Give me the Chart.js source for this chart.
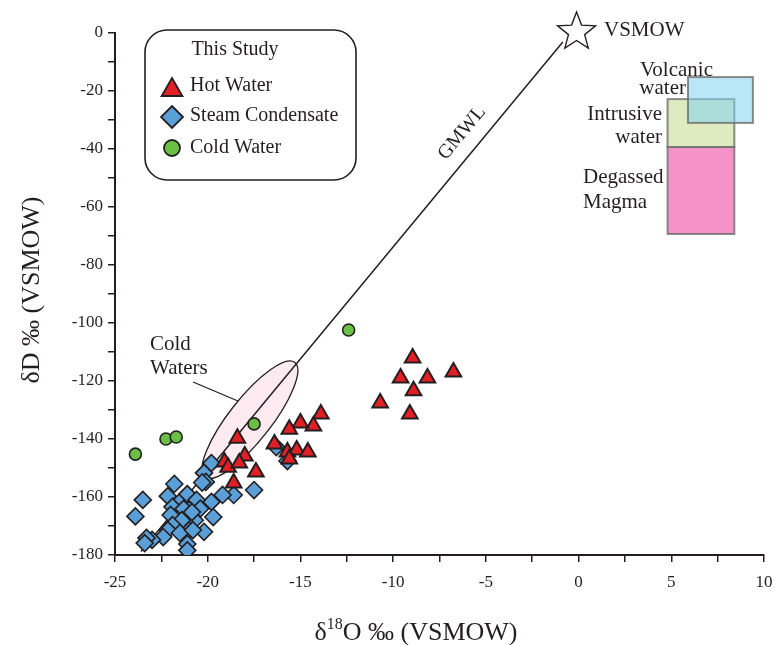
<!DOCTYPE html>
<html>
<head>
<meta charset="utf-8">
<script src="https://cdn.jsdelivr.net/npm/chart.js@4"></script>
<style>
  html, body { margin: 0; padding: 0; background: #fff; overflow: hidden; }
  #wrap { width: 775px; height: 645px; }
</style>
</head>
<body>
<div id="wrap"><canvas id="myChart"></canvas></div>
<script>
/*////////////////////////////////// DATA //////////////////////////////////*/
// Hot water (triangles)
const hotX = [-8.95, -9.6, -8.15, -6.75, -8.9, -10.7, -9.1, -13.9, -14.3, -15.0, -15.6, -16.4,
              -15.7, -15.2, -14.6, -15.6, -18.0, -17.4, -18.4, -19.1, -18.9, -18.3, -18.6];
const hotY = [-112.1, -119, -119, -116.9, -123.4, -127.6, -131.4, -131.4, -135.5, -134.5, -136.6, -141.7,
              -144.5, -143.8, -144.5, -146.9, -145.9, -151.4, -139.7, -147.9, -149.7, -148.3, -155.2];
// Steam condensate (diamonds)
const steamX = [-16.3, -15.7, -19.8, -20.2, -20.1, -17.5, -18.6, -19.2, -21.1, -19.8, -20.6, -20.4,
                -19.7, -21.0, -20.7, -20.2, -21.0, -21.8, -23.5, -23.9, -22.15, -20.3, -21.55, -21.9,
                -21.3, -22.0, -20.85, -21.4, -21.9, -22.15, -21.5, -20.8, -22.4, -23.0, -23.3, -23.4,
                -21.1, -21.1];
const steamY = [-142.8, -147.6, -148.3, -151.7, -154.8, -157.6, -159.3, -159.3, -159, -161.7, -161, -164,
                -166.9, -164.5, -168, -172, -171.4, -155.5, -161, -166.7, -159.7, -155, -162, -163.4,
                -164.1, -166.2, -165.2, -168, -169.7, -171.4, -172.4, -171.4, -173.8, -174.8, -174.1, -175.9,
                -176.2, -178.4];
// Cold water (circles)
const coldX = [-23.9, -22.25, -21.7, -17.5, -12.4];
const coldY = [-145.2, -140, -139.3, -134.8, -102.4];
// Global meteoric water line end points
const gmwlX = [-23.6, -0.85];
const gmwlY = [-178.8, -3.1];
// VSMOW reference
const vsmowX = [0];
const vsmowY = [0];
// Reference fields [xmin, xmax, ymax, ymin]
const volcanicBox = [5.9, 9.4, -15.2, -31];
const intrusiveBox = [4.8, 8.4, -22.8, -39.3];
const degassedBox = [4.8, 8.4, -39.3, -69.3];
// Cold waters field: ellipse tips
const coldFieldX = [-20.15, -15.3];
const coldFieldY = [-153.1, -113.6];

const xMin = -25, xMax = 10, xStep = 2.5, xLabelStep = 5;
const yMin = -180, yMax = 0, yStep = 10, yLabelStep = 20;

/*////////////////////////////////// STYLE //////////////////////////////////*/
const FONT = '"Liberation Serif", "Times New Roman", serif';
const INK = '#231f20';
const RED = '#e31f26';
const BLUE = '#5a9fd8';
const GREEN = '#6cbf45';

const toPts = (xs, ys) => xs.map((x, i) => ({ x: x, y: ys[i] }));

function trianglePath(ctx, x, y, r) {
    ctx.beginPath();
    ctx.moveTo(x, y - r);
    ctx.lineTo(x + r * 0.866, y + r * 0.5);
    ctx.lineTo(x - r * 0.866, y + r * 0.5);
    ctx.closePath();
}
function diamondPath(ctx, x, y, r) {
    ctx.beginPath();
    ctx.moveTo(x, y - r);
    ctx.lineTo(x + r, y);
    ctx.lineTo(x, y + r);
    ctx.lineTo(x - r, y);
    ctx.closePath();
}
function starPath(ctx, x, y, R, r) {
    ctx.beginPath();
    for (let i = 0; i < 10; i++) {
        const a = -Math.PI / 2 + i * Math.PI / 5;
        const rad = i % 2 === 0 ? R : r;
        const px = x + rad * Math.cos(a), py = y + rad * Math.sin(a);
        if (i === 0) ctx.moveTo(px, py); else ctx.lineTo(px, py);
    }
    ctx.closePath();
}
function roundRect(ctx, x, y, w, h, r) {
    ctx.beginPath();
    ctx.moveTo(x + r, y);
    ctx.arcTo(x + w, y, x + w, y + h, r);
    ctx.arcTo(x + w, y + h, x, y + h, r);
    ctx.arcTo(x, y + h, x, y, r);
    ctx.arcTo(x, y, x + w, y, r);
    ctx.closePath();
}

/*////////////////////////////////// DECORATIONS //////////////////////////////////*/
const decorations = {
    id: 'decorations',
    beforeDatasetsDraw(chart) {
        const ctx = chart.ctx;
        const xs = chart.scales.x, ys = chart.scales.y;
        ctx.save();
        // reference fields
        const fields = [
            [degassedBox, 'rgba(243,128,192,0.85)'],
            [intrusiveBox, 'rgba(200,222,150,0.6)'],
            [volcanicBox, 'rgba(130,212,240,0.55)']
        ];
        fields.forEach(([b, fill]) => {
            const x0 = xs.getPixelForValue(b[0]), x1 = xs.getPixelForValue(b[1]);
            const y0 = ys.getPixelForValue(b[2]), y1 = ys.getPixelForValue(b[3]);
            ctx.fillStyle = fill;
            ctx.fillRect(x0, y0, x1 - x0, y1 - y0);
            ctx.strokeStyle = 'rgba(110,110,110,0.8)';
            ctx.lineWidth = 2;
            ctx.strokeRect(x0, y0, x1 - x0, y1 - y0);
        });
        // cold waters ellipse
        const ex0 = xs.getPixelForValue(coldFieldX[0]), ey0 = ys.getPixelForValue(coldFieldY[0]);
        const ex1 = xs.getPixelForValue(coldFieldX[1]), ey1 = ys.getPixelForValue(coldFieldY[1]);
        const cx = (ex0 + ex1) / 2, cy = (ey0 + ey1) / 2;
        const semi = Math.hypot(ex1 - ex0, ey1 - ey0) / 2;
        const ang = Math.atan2(ey1 - ey0, ex1 - ex0);
        ctx.beginPath();
        ctx.ellipse(cx, cy, semi, 21, ang, 0, Math.PI * 2);
        ctx.fillStyle = '#fdebf1';
        ctx.fill();
        ctx.strokeStyle = INK;
        ctx.lineWidth = 1.3;
        ctx.stroke();
        ctx.restore();
    },
    afterDraw(chart) {
        const ctx = chart.ctx;
        const xs = chart.scales.x, ys = chart.scales.y;
        ctx.save();
        ctx.fillStyle = INK;
        ctx.textBaseline = 'middle';

        // VSMOW star
        const sx = xs.getPixelForValue(vsmowX[0]) - 2, sy = ys.getPixelForValue(vsmowY[0]) - 1;
        starPath(ctx, sx, sy, 20, 8.5);
        ctx.fillStyle = '#fff';
        ctx.fill();
        ctx.strokeStyle = INK;
        ctx.lineWidth = 1.4;
        ctx.stroke();
        ctx.fillStyle = INK;
        ctx.font = '21px ' + FONT;
        ctx.textAlign = 'left';
        ctx.fillText('VSMOW', 604, 30);

        // field labels
        ctx.textAlign = 'right';
        ctx.fillText('Volcanic', 713, 70);
        ctx.fillText('water', 686, 88);
        ctx.fillText('Intrusive', 662, 114);
        ctx.fillText('water', 662, 137);
        ctx.textAlign = 'left';
        ctx.fillText('Degassed', 583, 177);
        ctx.fillText('Magma', 583, 202);

        // GMWL label
        ctx.save();
        ctx.translate(462, 133);
        ctx.rotate(-50.5 * Math.PI / 180);
        ctx.textAlign = 'center';
        ctx.font = '20px ' + FONT;
        ctx.fillText('GMWL', 0, 0);
        ctx.restore();

        // Cold waters label + leader
        ctx.textAlign = 'left';
        ctx.fillText('Cold', 150, 344);
        ctx.fillText('Waters', 150, 368);
        ctx.beginPath();
        ctx.moveTo(193, 382);
        ctx.lineTo(238, 401);
        ctx.strokeStyle = INK;
        ctx.lineWidth = 1.3;
        ctx.stroke();

        // legend
        roundRect(ctx, 145, 30, 211, 150, 22);
        ctx.fillStyle = '#fff';
        ctx.fill();
        ctx.lineWidth = 1.6;
        ctx.strokeStyle = INK;
        ctx.stroke();
        ctx.fillStyle = INK;
        ctx.font = '20px ' + FONT;
        ctx.textAlign = 'center';
        ctx.fillText('This Study', 235, 50);
        ctx.textAlign = 'left';
        ctx.lineWidth = 1.8;
        trianglePath(ctx, 172, 90, 12);
        ctx.fillStyle = RED; ctx.fill(); ctx.stroke();
        diamondPath(ctx, 172, 117, 11);
        ctx.fillStyle = BLUE; ctx.fill(); ctx.stroke();
        ctx.beginPath(); ctx.arc(172, 148, 8, 0, Math.PI * 2);
        ctx.fillStyle = GREEN; ctx.fill(); ctx.stroke();
        ctx.fillStyle = INK;
        ctx.fillText('Hot Water', 190, 86);
        ctx.fillText('Steam Condensate', 190, 116);
        ctx.fillText('Cold Water', 190, 148);

        // axis titles
        ctx.font = '26px ' + FONT;
        ctx.save();
        ctx.translate(32, 290);
        ctx.rotate(-Math.PI / 2);
        ctx.textAlign = 'center';
        ctx.fillText('δD ‰ (VSMOW)', 0, 0);
        ctx.restore();

        const part1 = 'δ', part2 = '18', part3 = 'O ‰ (VSMOW)';
        ctx.font = '26px ' + FONT;
        const w1 = ctx.measureText(part1).width, w3 = ctx.measureText(part3).width;
        ctx.font = '16px ' + FONT;
        const w2 = ctx.measureText(part2).width;
        let tx = 416 - (w1 + w2 + w3) / 2;
        ctx.textBaseline = 'alphabetic';
        ctx.textAlign = 'left';
        ctx.font = '26px ' + FONT;
        ctx.fillText(part1, tx, 640);
        ctx.font = '16px ' + FONT;
        ctx.fillText(part2, tx + w1, 629);
        ctx.font = '26px ' + FONT;
        ctx.fillText(part3, tx + w1 + w2, 640);
        ctx.restore();
    }
};

/*////////////////////////////////// CHART //////////////////////////////////*/
const ctx = document.getElementById('myChart').getContext('2d');
const myChart = new Chart(ctx, {
    type: 'scatter',
    data: {
        datasets: [
            {
                label: 'Cold Water',
                data: toPts(coldX, coldY),
                pointStyle: 'circle',
                pointRadius: 6,
                backgroundColor: GREEN,
                borderColor: INK,
                borderWidth: 1.6,
                order: 1
            },
            {
                label: 'Hot Water',
                data: toPts(hotX, hotY),
                pointStyle: 'triangle',
                pointRadius: 9,
                backgroundColor: RED,
                borderColor: INK,
                borderWidth: 2,
                order: 2
            },
            {
                label: 'Steam Condensate',
                data: toPts(steamX, steamY),
                pointStyle: 'rectRot',
                pointRadius: 8.5,
                backgroundColor: BLUE,
                borderColor: INK,
                borderWidth: 1.6,
                order: 3
            },
            {
                type: 'line',
                label: 'GMWL',
                data: toPts(gmwlX, gmwlY),
                borderColor: INK,
                borderWidth: 1.5,
                pointRadius: 0,
                fill: false,
                order: 4
            }
        ]
    },
    options: {
        responsive: true,
        maintainAspectRatio: false,
        animation: false,
        layout: { padding: { top: 33, right: 10, left: 0, bottom: 0 } },
        plugins: {
            legend: { display: false },
            tooltip: { enabled: false }
        },
        scales: {
            x: {
                type: 'linear',
                min: xMin, max: xMax,
                afterFit: (s) => { s.height = 90; s.paddingLeft = 0; s.paddingRight = 0; },
                ticks: {
                    stepSize: xStep,
                    autoSkip: false,
                    maxRotation: 0,
                    padding: 10,
                    color: INK,
                    font: { family: FONT, size: 17 },
                    callback: (v) => Math.abs(v % xLabelStep) < 1e-6 ? String(v) : ''
                },
                grid: { drawOnChartArea: false, drawTicks: true, tickLength: 7, color: INK, lineWidth: 1.5 },
                border: { color: INK, width: 2 }
            },
            y: {
                type: 'linear',
                min: yMin, max: yMax,
                afterFit: (s) => { s.width = 115; s.paddingTop = 0; s.paddingBottom = 0; },
                ticks: {
                    stepSize: yStep,
                    autoSkip: false,
                    padding: 5,
                    color: INK,
                    font: { family: FONT, size: 17 },
                    callback: (v) => Math.abs(v % yLabelStep) < 1e-6 ? String(v) : ''
                },
                grid: { drawOnChartArea: false, drawTicks: true, tickLength: 7, color: INK, lineWidth: 1.5 },
                border: { color: INK, width: 2 }
            }
        }
    },
    plugins: [decorations]
});
</script>
</body>
</html>
